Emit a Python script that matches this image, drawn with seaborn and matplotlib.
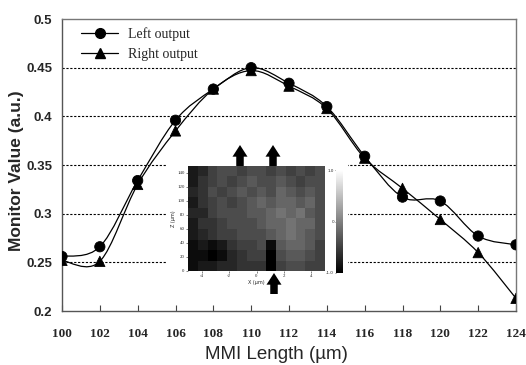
import numpy as np
import pandas as pd
import matplotlib
matplotlib.use("Agg")
import matplotlib.pyplot as plt
import seaborn as sns
from matplotlib.path import Path
from matplotlib.patches import PathPatch
from matplotlib.lines import Line2D
from matplotlib.text import Annotation

# Monitor values of the two MMI output ports vs. MMI length
mmi_length = [100, 102, 104, 106, 108, 110, 112, 114, 116, 118, 120, 122, 124]
left_output = [0.256, 0.266, 0.334, 0.396, 0.428, 0.450, 0.434, 0.410, 0.359, 0.317, 0.313, 0.277, 0.268]
right_output = [0.252, 0.251, 0.330, 0.385, 0.428, 0.447, 0.431, 0.408, 0.357, 0.326, 0.294, 0.260, 0.213]
series_names = ["Left output", "Right output"]
y_ticks = [0.2, 0.25, 0.3, 0.35, 0.4, 0.45, 0.5]
y_tick_labels = ["0.2", "0.25", "0.3", "0.35", "0.4", "0.45", "0.5"]

# Field map of the MMI section (X across, Z along the device)
field_map = [
    [-0.8, -0.7, -0.5, -0.4, -0.4, -0.5, -0.4, -0.4, -0.5, -0.4, -0.5, -0.4, -0.5, -0.4],
    [-0.8, -0.6, -0.5, -0.4, -0.5, -0.4, -0.3, -0.4, -0.4, -0.3, -0.4, -0.5, -0.4, -0.4],
    [-0.7, -0.6, -0.4, -0.5, -0.4, -0.3, -0.4, -0.3, -0.4, -0.2, -0.3, -0.4, -0.3, -0.4],
    [-0.8, -0.6, -0.5, -0.4, -0.5, -0.4, -0.3, -0.2, -0.3, -0.2, -0.2, -0.3, -0.2, -0.4],
    [-0.7, -0.7, -0.5, -0.4, -0.4, -0.4, -0.3, -0.3, -0.2, -0.1, -0.2, -0.1, -0.3, -0.4],
    [-0.8, -0.6, -0.6, -0.5, -0.4, -0.4, -0.4, -0.3, -0.2, -0.2, -0.1, -0.2, -0.2, -0.4],
    [-0.8, -0.7, -0.6, -0.5, -0.5, -0.4, -0.4, -0.4, -0.3, -0.2, -0.1, -0.2, -0.3, -0.4],
    [-0.9, -0.8, -0.9, -0.8, -0.6, -0.5, -0.5, -0.4, -0.9, -0.3, -0.2, -0.2, -0.3, -0.5],
    [-0.9, -0.9, -1.0, -0.9, -0.7, -0.6, -0.5, -0.5, -1.0, -0.4, -0.3, -0.3, -0.4, -0.5],
    [-0.9, -0.8, -0.8, -0.7, -0.7, -0.6, -0.6, -0.6, -1.0, -0.5, -0.4, -0.4, -0.5, -0.5],
]
field_x_range = (-5, 5)
field_z_range = (0, 150)
field_x_ticks = [-4, -2, 0, 2, 4]
field_z_ticks = [0, 20, 40, 60, 80, 100, 120, 140]

sns.set_theme(style="white")
W, H = 526, 365
fig = plt.figure(figsize=(W / 100, H / 100), dpi=100)
fig.patch.set_facecolor("white")


def px_axes(x0, y0, x1, y1, **kw):
    """Axes given by pixel box (left, top, right, bottom) in image coordinates."""
    return fig.add_axes([x0 / W, 1 - y1 / H, (x1 - x0) / W, (y1 - y0) / H], **kw)


ax = px_axes(62, 19, 516, 311)

df = pd.DataFrame({
    "length": mmi_length * 2,
    "value": left_output + right_output,
    "output": [series_names[0]] * len(mmi_length) + [series_names[1]] * len(mmi_length),
})


def smooth_path(x, y):
    """Cubic Bezier path through the points (spreadsheet-style smoothed line)."""
    pts = np.column_stack([x, y]).astype(float)
    n = len(pts)
    verts, codes = [pts[0]], [Path.MOVETO]
    for i in range(n - 1):
        p0 = pts[i - 1] if i > 0 else pts[i]
        p1, p2 = pts[i], pts[i + 1]
        p3 = pts[i + 2] if i + 2 < n else pts[i + 1]
        verts += [p1 + (p2 - p0) / 6, p2 - (p3 - p1) / 6, p2]
        codes += [Path.CURVE4] * 3
    return Path(verts, codes)


for name in series_names:
    sub = df[df["output"] == name]
    ax.add_patch(PathPatch(smooth_path(sub["length"], sub["value"]), fill=False,
                           edgecolor="black", lw=0.9, zorder=2))

sns.scatterplot(data=df, x="length", y="value", style="output",
                markers={series_names[0]: "o", series_names[1]: "^"},
                color="black", edgecolor="black", s=55, ax=ax, legend=False, zorder=3)

ax.set_xlim(100, 124)
ax.set_ylim(0.2, 0.5)
ax.set_xticks(mmi_length)
ax.set_xticklabels([str(v) for v in mmi_length], fontfamily="Liberation Serif",
                   fontweight="bold", fontsize=9.5)
ax.set_yticks(y_ticks)
ax.set_yticklabels(y_tick_labels, fontfamily="Liberation Sans", fontweight="bold", fontsize=9.5)
ax.tick_params(axis="x", direction="in", length=4, width=0.8, color="#444444", pad=12, bottom=True)
ax.tick_params(axis="y", length=0, pad=7)

for y in y_ticks[1:-1]:
    ax.axhline(y, color="black", lw=0.8, ls=(0, (2, 1.5)), zorder=1)

for side in ("left", "bottom"):
    ax.spines[side].set_color("#555555")
    ax.spines[side].set_linewidth(1.0)
for side in ("top", "right"):
    ax.spines[side].set_color("#777777")
    ax.spines[side].set_linewidth(1.0)
    ax.spines[side].set_linestyle((0, (1, 1)))

ax.set_xlabel("MMI Length (µm)", fontfamily="Liberation Sans", fontsize=13.5)
ax.xaxis.set_label_coords((276 - 62) / 454, (311 - 346) / 292)
ax.set_ylabel("Monitor Value (a.u.)", fontfamily="Liberation Sans", fontweight="bold",
              fontsize=12.5, va="center")
ax.yaxis.set_label_coords((17 - 62) / 454, (311 - 171) / 292)

handles = [
    Line2D([], [], color="black", lw=0.9, marker="o", markersize=7),
    Line2D([], [], color="black", lw=0.9, marker="^", markersize=6.5),
]
ax.legend(handles, series_names, loc="center left",
          bbox_to_anchor=(74 / W, 1 - 44 / H), bbox_transform=fig.transFigure,
          frameon=False, borderpad=0, handlelength=2.7, handletextpad=0.7,
          labelspacing=0.55, prop={"family": "Liberation Serif", "size": 10})

# inset: field map with colour scale
back = px_axes(166, 163, 348, 302)
back.set_facecolor("white")
back.set_xticks([])
back.set_yticks([])
for s in back.spines.values():
    s.set_visible(False)
back.set_zorder(4)

ins = px_axes(188, 166, 325, 271)
cax = px_axes(336, 170, 343, 273)
ins.set_zorder(5)
cax.set_zorder(5)
nrow, ncol = len(field_map), len(field_map[0])
sns.heatmap(np.array(field_map), ax=ins, cbar_ax=cax, cmap="gray", vmin=-1, vmax=1,
            xticklabels=False, yticklabels=False)
ins.set_xticks([(v - field_x_range[0]) / (field_x_range[1] - field_x_range[0]) * ncol for v in field_x_ticks])
ins.set_xticklabels([str(v) for v in field_x_ticks], fontsize=3.5, fontfamily="Liberation Serif")
ins.set_yticks([nrow - (v - field_z_range[0]) / (field_z_range[1] - field_z_range[0]) * nrow for v in field_z_ticks])
ins.set_yticklabels([str(v) for v in field_z_ticks], fontsize=3.5, fontfamily="Liberation Serif", rotation=0)
ins.tick_params(length=1.5, width=0.4, pad=1, bottom=True, left=True)
ins.set_xlabel("X (µm)", fontsize=3.5, labelpad=1)
ins.set_ylabel("Z (µm)", fontsize=3.5, labelpad=1)
cax.yaxis.set_ticks_position("left")
cax.set_yticks([-1.0, 0.0, 1.0])
cax.set_yticklabels(["-1.0", "0", "1.0"], fontsize=3)
cax.tick_params(length=1, width=0.4, pad=0.5)

# port arrows (two outputs above, input below), drawn on top of everything
arrow_kw = dict(arrowstyle="simple,head_width=0.9,tail_width=0.45,head_length=0.7",
                color="black", lw=0, shrinkA=0, shrinkB=0)
for x_px, (tail, tip) in [(240, (166, 145)), (273, (166, 145)), (274, (294, 273))]:
    arr = Annotation("", xy=(x_px, H - tip), xytext=(x_px, H - tail),
                     xycoords="figure pixels", textcoords="figure pixels",
                     arrowprops=arrow_kw, annotation_clip=False)
    arr.set_zorder(10)
    fig.add_artist(arr)

fig.savefig("out.png", dpi=100, facecolor="white")
